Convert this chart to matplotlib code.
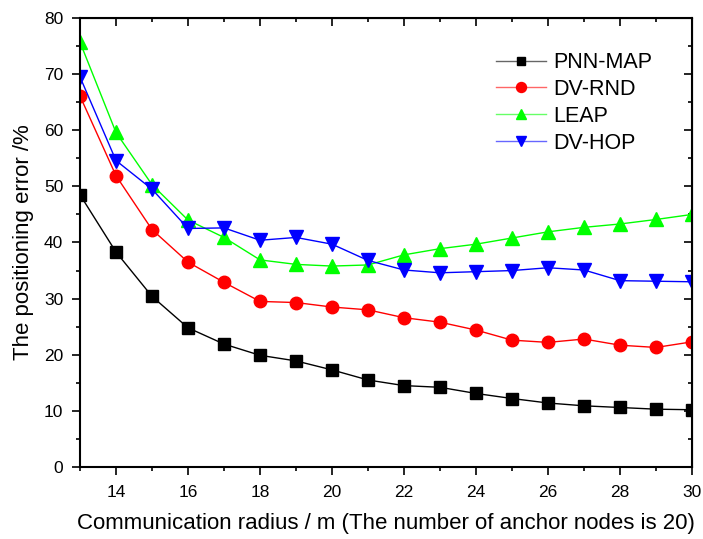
import matplotlib.pyplot as plt
from matplotlib.colors import to_rgba
from matplotlib.ticker import MultipleLocator

plt.rcParams['font.family'] = ['Liberation Sans', 'DejaVu Sans']

radius = list(range(13, 31))

pnn_map = [48.5, 38.3, 30.4, 24.8, 21.9, 19.9, 18.9, 17.3, 15.5, 14.5,
           14.2, 13.1, 12.2, 11.4, 10.9, 10.6, 10.3, 10.2]
dv_rnd = [66.1, 51.9, 42.3, 36.5, 32.9, 29.5, 29.3, 28.5, 28.0, 26.6,
          25.8, 24.4, 22.6, 22.2, 22.8, 21.7, 21.3, 22.3]
leap = [75.7, 59.6, 50.3, 44.0, 40.9, 36.9, 36.1, 35.8, 36.0, 37.8,
        38.9, 39.7, 40.8, 41.9, 42.7, 43.3, 44.1, 45.0]
dv_hop = [69.5, 54.6, 49.5, 42.5, 42.6, 40.4, 40.9, 39.7, 36.8, 35.1,
          34.6, 34.8, 35.0, 35.5, 35.1, 33.2, 33.1, 33.0]

series = [
    ('PNN-MAP', pnn_map, 'black', 's', 8),
    ('DV-RND', dv_rnd, 'red', 'o', 9),
    ('LEAP', leap, '#00ff00', '^', 9.5),
    ('DV-HOP', dv_hop, 'blue', 'v', 9.5),
]

fig = plt.figure(figsize=(7.03, 5.39), dpi=100)
ax = fig.add_axes([0.1138, 0.1336, 0.8706, 0.833])

for name, vals, color, marker, ms in series:
    ax.plot(radius, vals, color=color, marker=marker, markersize=ms,
            linewidth=1, label=name)

ax.set_xlim(13, 30)
ax.set_ylim(0, 80)
ax.xaxis.set_major_locator(MultipleLocator(2))
ax.xaxis.set_minor_locator(MultipleLocator(1))
ax.yaxis.set_major_locator(MultipleLocator(10))
ax.yaxis.set_minor_locator(MultipleLocator(5))
ax.tick_params(which='both', direction='out', top=False, right=False,
               labelsize=12.5, width=1.2)
ax.tick_params(which='major', length=6)
ax.tick_params(which='minor', length=3)
ax.tick_params(axis='x', which='major', pad=7)
ax.tick_params(axis='y', which='major', pad=6)
for s in ax.spines.values():
    s.set_linewidth(1.5)

# inward ticks on top and right
sec_x = ax.secondary_xaxis('top')
sec_x.xaxis.set_major_locator(MultipleLocator(2))
sec_x.xaxis.set_minor_locator(MultipleLocator(1))
sec_x.tick_params(which='both', direction='in', labeltop=False, width=1.2)
sec_x.tick_params(which='major', length=6)
sec_x.tick_params(which='minor', length=3)
sec_y = ax.secondary_yaxis('right')
sec_y.yaxis.set_major_locator(MultipleLocator(10))
sec_y.yaxis.set_minor_locator(MultipleLocator(5))
sec_y.tick_params(which='both', direction='in', labelright=False, width=1.2)
sec_y.tick_params(which='major', length=6)
sec_y.tick_params(which='minor', length=3)

ax.set_xlabel('Communication radius / m (The number of anchor nodes is 20)',
              fontsize=16, labelpad=9)
ax.set_ylabel('The positioning error /%', fontsize=16, labelpad=7)

leg = ax.legend(loc='upper left', bbox_to_anchor=(0.68, 0.924), frameon=False,
                fontsize=15.5, handlelength=2.3, labelspacing=0.27,
                handletextpad=0.35, borderpad=0, borderaxespad=0,
                markerscale=0.8)
# lighter line in the legend, solid marker
for h, (_, _, color, _, _) in zip(leg.legend_handles, series):
    h.set_color(to_rgba(color, 0.6))
    h.set_markerfacecolor(color)
    h.set_markeredgecolor(color)

fig.savefig('out.png', dpi=100)
